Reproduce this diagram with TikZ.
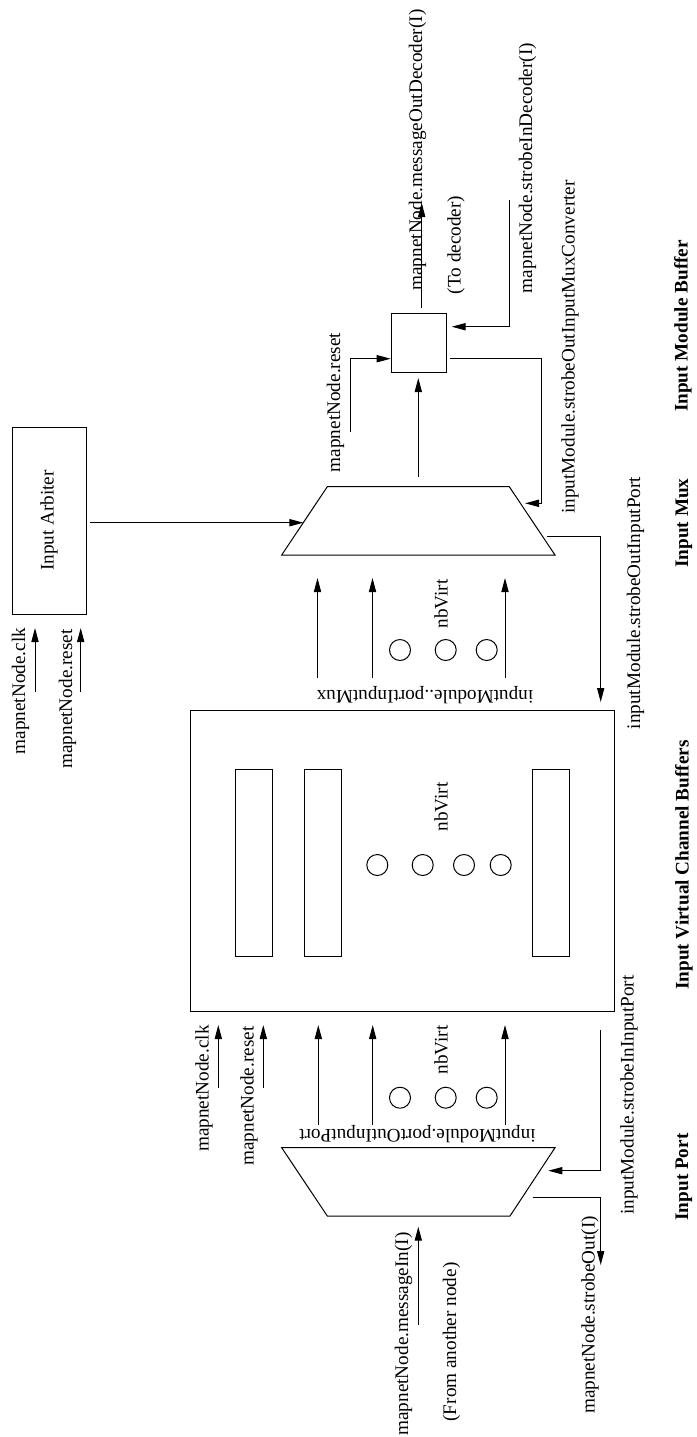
\documentclass[tikz,border=0pt]{standalone}
\usepackage{fontspec}
\setmainfont{Liberation Serif}
\usetikzlibrary{arrows.meta}
\begin{document}
\begin{tikzpicture}[x=0.5pt,y=-0.5pt,
  line width=0.5pt,
  every node/.style={inner sep=0pt, font=\fontsize{9.6}{11}\selectfont},
  lbl/.style={rotate=90},
  flip/.style={rotate=180},
  sect/.style={rotate=90, font=\fontsize{9.6}{11}\selectfont\bfseries},
  arr/.style={-{Triangle[length=7pt,width=3.6pt]}},
  dot/.style={draw, circle, minimum size=10.5pt},
  buf/.style={draw, minimum width=18.4pt, minimum height=93.7pt}
]
\useasboundingbox (0,0) rectangle (697,1437);

% ---------- blocks ----------
\node[draw, minimum width=37pt, minimum height=93.5pt] (arb) at (49,520.5) {};
\node[lbl] (arbtxt) at (arb.center) {Input Arbiter};

\node[draw, minimum width=27.5pt, minimum height=29.5pt] (dec) at (418.5,342.5) {};

\node[draw, minimum width=212pt, minimum height=150.5pt] (vc) at (402,860.5) {};
\node[buf] (buf1) at (254.2,863) {};
\node[buf] (buf2) at (322.7,863) {};
\node[buf] (buf3) at (550.7,863) {};

% input mux (upper trapezium) and input port (lower trapezium)
\coordinate (mA) at (327.3,486.7);
\coordinate (mB) at (509.3,486.7);
\coordinate (mC) at (555,555);
\coordinate (mD) at (281.7,555);
\draw (mA) -- (mB) -- (mC) -- (mD) -- cycle;

\coordinate (pA) at (281.7,1147.7);
\coordinate (pB) at (555,1147.7);
\coordinate (pC) at (510,1216);
\coordinate (pD) at (327.3,1216);
\draw (pA) -- (pB) -- (pC) -- (pD) -- cycle;

% ---------- dots for the nbVirt channels ----------
\foreach \x [count=\i] in {400,445.7,486.7} {
  \node[dot] (dm\i) at (\x,650) {};
  \node[dot] (dp\i) at (\x,1097.7) {};
}
\foreach \x [count=\i] in {377.3,422.7,464,500.7}
  \node[dot] (dv\i) at (\x,865) {};

\node[lbl] (nbm) at (441,604) {nbVirt};
\node[lbl] (nbv) at (441,807) {nbVirt};
\node[lbl] (nbp) at (441,1050) {nbVirt};

% ---------- arbiter inputs ----------
\coordinate (aclk0) at (35,692);   \coordinate (aclk1) at (35,628);
\coordinate (arst0) at (80.7,692); \coordinate (arst1) at (80.7,628);
\draw[arr] (aclk0) -- (aclk1);
\draw[arr] (arst0) -- (arst1);
\node[lbl] (laclk) at (20.5,691) {mapnetNode.clk};
\node[lbl] (larst) at (67.5,699) {mapnetNode.reset};

% arbiter to mux select
\coordinate (arbo) at (90,522.7);
\coordinate (muxsel) at (303.4,522.7);
\draw[arr] (arbo) -- (muxsel);

% ---------- mux converter ----------
\coordinate (drst0) at (350,432);
\coordinate (drst1) at (390.7,358.7);
\draw[arr] (drst0) |- (drst1);
\node[lbl] (ldrst) at (335.5,402.5) {mapnetNode.reset};

\coordinate (mout) at (418.3,477);
\coordinate (din) at (418.3,378);
\draw[arr] (mout) -- (din);

\coordinate (dout0) at (421.7,308);
\coordinate (dout1) at (421.7,203);
\draw[arr] (dout0) -- (dout1);
\node[lbl] (ldout) at (417.5,150) {mapnetNode.messageOutDecoder(I)};
\node[lbl] (ltodec) at (456,245) {(To decoder)};

\coordinate (sid0) at (509.3,200);
\coordinate (sid1) at (451.7,326.7);
\draw[arr] (sid0) |- (sid1);
\node[lbl] (lsid) at (527.5,168) {mapnetNode.strobeInDecoder(I)};

\coordinate (som0) at (450,358.3);
\coordinate (som1) at (541.7,358.3);
\coordinate (som2) at (525,503.3);
\draw[arr] (som0) -- (som1) |- (som2);
\node[lbl] (lsom) at (570,347) {inputModule.strobeOutInputMuxConverter};

% mux strobe back to the channel buffers
\coordinate (sop0) at (546.7,536.7);
\coordinate (sop1) at (600.7,702);
\draw[arr] (sop0) -| (sop1);
\node[lbl] (lsop) at (635.5,603) {inputModule.strobeOutInputPort};

% ---------- buffers to mux ----------
\foreach \x [count=\i] in {317.5,372.5,505} {
  \coordinate (bm\i) at (\x,678);
  \coordinate (mi\i) at (\x,578);
  \draw[arr] (bm\i) -- (mi\i);
}
\node[flip] (lpim) at (425,695) {inputModule..portInputMux};

% ---------- port to buffers ----------
\foreach \x [count=\i] in {318.3,372.7,505} {
  \coordinate (po\i) at (\x,1125);
  \coordinate (bi\i) at (\x,1025);
  \draw[arr] (po\i) -- (bi\i);
}
\node[flip] (lpop) at (417.5,1134.5) {inputModule.portOutInputPort};

\coordinate (vclk0) at (218.3,1088); \coordinate (vclk1) at (218.3,1025);
\coordinate (vrst0) at (263.3,1088); \coordinate (vrst1) at (263.3,1025);
\draw[arr] (vclk0) -- (vclk1);
\draw[arr] (vrst0) -- (vrst1);
\node[lbl] (lvclk) at (204,1088.5) {mapnetNode.clk};
\node[lbl] (lvrst) at (249,1096) {mapnetNode.reset};

% ---------- input port signals ----------
\coordinate (sip0) at (600.7,1030);
\coordinate (sip1) at (548.3,1170.7);
\draw[arr] (sip0) |- (sip1);
\node[lbl] (lsip) at (629,1095) {inputModule.strobeInInputPort};

\coordinate (so0) at (532.7,1197.7);
\coordinate (so1) at (600.7,1265);
\draw[arr] (so0) -| (so1);
\node[lbl] (lso) at (590,1315) {mapnetNode.strobeOut(I)};

\coordinate (msg0) at (418.3,1325);
\coordinate (msg1) at (418.3,1226.7);
\draw[arr] (msg0) -- (msg1);
\node[lbl] (lmsg) at (403.5,1334) {mapnetNode.messageIn(I)};
\node[lbl] (lfrom) at (451.5,1342) {(From another node)};

% ---------- section titles ----------
\node[sect] (s1) at (683,326) {Input Module Buffer};
\node[sect] (s2) at (684,523) {Input Mux};
\node[sect] (s3) at (684,865) {Input Virtual Channel Buffers};
\node[sect] (s4) at (684,1177) {Input Port};
\end{tikzpicture}
\end{document}
